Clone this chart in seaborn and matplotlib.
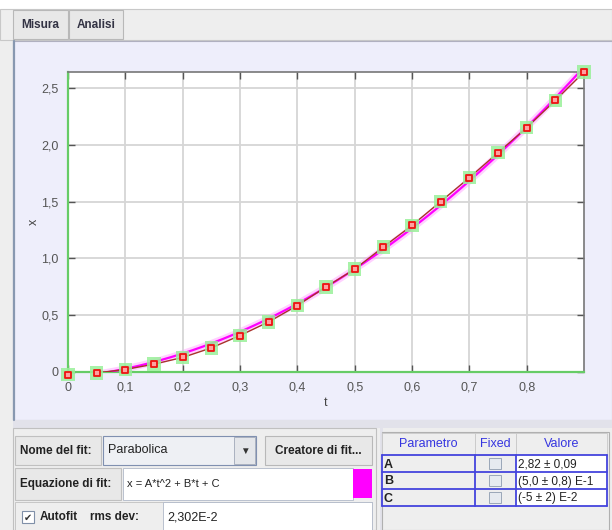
import numpy as np
import pandas as pd
import matplotlib
matplotlib.use("Agg")
import matplotlib.pyplot as plt
from matplotlib.patches import Rectangle
import seaborn as sns

sns.set_style("ticks")
plt.rcParams['font.family'] = ['Liberation Sans', 'DejaVu Sans']

# measured points (t, x)
t_vals = [0.00, 0.05, 0.10, 0.15, 0.20, 0.25, 0.30, 0.35, 0.40, 0.45,
          0.50, 0.55, 0.60, 0.65, 0.70, 0.75, 0.80, 0.85, 0.90]
x_vals = [-0.022, -0.008, 0.022, 0.069, 0.128, 0.212, 0.321, 0.441, 0.585, 0.749,
          0.905, 1.10, 1.29, 1.50, 1.71, 1.93, 2.15, 2.39, 2.64]

# fit results shown in the table
par_names = ["A", "B", "C"]
par_values = [2.82, 0.50, -0.05]
par_labels = ["2,82 ± 0,09", "(5,0 ± 0,8) E-1", "(-5 ± 2) E-2"]

x_ticks = [0, 0.1, 0.2, 0.3, 0.4, 0.5, 0.6, 0.7, 0.8]
x_ticklabels = ["0", "0,1", "0,2", "0,3", "0,4", "0,5", "0,6", "0,7", "0,8"]
y_ticks = [0, 0.5, 1.0, 1.5, 2.0, 2.5]
y_ticklabels = ["0", "0,5", "1,0", "1,5", "2,0", "2,5"]

df = pd.DataFrame({"t": t_vals, "x": x_vals})
A, B, C = par_values
t_fit = np.linspace(0, 0.9, 200)
fit = pd.DataFrame({"t": t_fit, "x": A * t_fit**2 + B * t_fit + C})

W, H = 612, 530
fig = plt.figure(figsize=(W / 100, H / 100), dpi=100)
fig.patch.set_facecolor("#EEEEEE")

# --- GUI background, drawn in pixel coords ---
bg = fig.add_axes([0, 0, 1, 1], zorder=-10)
bg.set_xlim(0, W)
bg.set_ylim(H, 0)
bg.axis("off")


def box(x, y, w, h, fc, ec="none", lw=1.0):
    bg.add_patch(Rectangle((x, y), w, h, facecolor=fc, edgecolor=ec, linewidth=lw))


def label(x, y, s, size=8.5, weight="normal", color="#222222", ha="left"):
    bg.text(x, y, s, fontsize=size, fontweight=weight, color=color, ha=ha, va="center")


box(0, 0, W, 9, "white")
box(0, 9, W, 31, "#EEEEEE", "#C8C8C8", 0.8)
box(13, 10, 55, 29, "#E8E8E8", "#B8B8B8", 0.8)
box(69, 10, 54, 29, "#E8E8E8", "#B8B8B8", 0.8)
label(40.5, 25, "Misura", 8.5, "bold", "#333344", "center")
label(96, 25, "Analisi", 8.5, "bold", "#333344", "center")

# plot panel
box(13, 41, W - 13, 379, "#EEEEFB", "#B0B0C0", 0.8)
bg.plot([13.5, 13.5], [41, 420], color="#8898B0", lw=1.6)
box(13, 420, W - 13, 8, "#E2E2EA")

# bottom-left fit panel
box(13, 428, 363, 102, "#EEEEEE", "#C0C0C0", 0.8)
box(15, 436, 86, 29, "#E8E8E8", "#C0C0C0", 0.8)
label(20, 451, "Nome del fit:", 8.5, "bold")
box(103, 436, 153, 29, "#EEF0F4", "#8090B0", 0.8)
label(108, 450, "Parabolica", 9)
box(234, 437, 21, 27, "#E4E6EA", "#A0A8B8", 0.6)
label(244.5, 451, "▼", 7, color="#333333", ha="center")
box(265, 436, 107, 29, "#E8E8E8", "#B8B8B8", 0.8)
label(318.5, 451, "Creatore di fit...", 8.5, "bold", ha="center")

box(15, 468, 106, 32, "#E8E8E8", "#C0C0C0", 0.8)
label(20, 484, "Equazione di fit:", 8.5, "bold")
box(123, 468, 230, 32, "white", "#B0B8C8", 0.6)
label(127, 484, "x = A*t^2 + B*t + C", 8)
box(353, 469, 19, 29, "#FF00FF")

box(15, 502, 357, 28, "#EEEEEE", "#C0C0C0", 0.6)
box(22, 511, 12, 12, "white", "#8090A8", 0.8)
label(28, 517.5, "✔", 7, color="#333333", ha="center")
label(40, 517.5, "Autofit", 8.5, "bold")
label(90, 517.5, "rms dev:", 8.5, "bold")
box(163, 502, 209, 28, "white", "#B0B8C8", 0.6)
label(167, 517, "2,302E-2", 9)

# parameter table
box(380, 428, 3, 102, "#E2E2EA")
box(382, 432, 227, 98, "#EEEEEE", "#B0B0B0", 0.8)
cols = [382, 475, 516, 607]
header = ["Parametro", "Fixed", "Valore"]
for i, h in enumerate(header):
    box(cols[i], 433, cols[i + 1] - cols[i], 22, "#EEEEEE", "#C8C8C8", 0.6)
    label((cols[i] + cols[i + 1]) / 2, 444, h, 9, color="#3535E0", ha="center")
row_h = 17
for r, (name, val) in enumerate(zip(par_names, par_labels)):
    y0 = 455 + r * row_h
    box(cols[0], y0, cols[1] - cols[0], row_h, "#EEEEEE")
    box(cols[2], y0, cols[3] - cols[2], row_h, "white")
    box(489, y0 + 3, 12, 11, "#E6EAF0", "#9AA6B8", 0.7)
    label(cols[0] + 2, y0 + row_h / 2 + 1, name, 9, "bold")
    label(cols[2] + 2, y0 + row_h / 2 + 1, val, 8.5, color="#222222")
for y in [455, 472, 489, 506]:
    bg.plot([cols[0], cols[3]], [y, y], color="#4444DD", lw=1.3)
for x in cols:
    bg.plot([x, x], [455, 506], color="#4444DD", lw=1.3)

# --- plot area ---
ax = fig.add_axes([68 / W, 1 - 372 / H, (584 - 68) / W, 300 / H])
ax.set_facecolor("white")

ax.plot(fit["t"], fit["x"], color="#FF99FF", lw=5, alpha=0.45, zorder=2)
sns.lineplot(data=fit, x="t", y="x", ax=ax, color="#FF00FF", lw=1.6, zorder=3)
sns.lineplot(data=df, x="t", y="x", ax=ax, color="#A8322A", lw=1.0, zorder=4)
sns.scatterplot(data=df, x="t", y="x", ax=ax, marker="s", s=95, color="#99F099",
                alpha=0.85, edgecolor="none", zorder=5, clip_on=False)
sns.scatterplot(data=df, x="t", y="x", ax=ax, marker="s", s=24, color="#FFA0A0",
                edgecolor="#EE1111", linewidth=1.3, zorder=6, clip_on=False)

ax.set_xlim(0, 0.9)
ax.set_ylim(0, 2.64)
ax.set_xticks(x_ticks)
ax.set_xticklabels(x_ticklabels)
ax.set_yticks(y_ticks)
ax.set_yticklabels(y_ticklabels)
ax.grid(True, color="#D6D6D6", lw=1.3)
ax.set_axisbelow(True)
ax.tick_params(direction="in", length=5, width=1, color="#555555",
               labelsize=9, labelcolor="#555555", top=True, right=True,
               labeltop=False, labelright=False, pad=7)
ax.set_xlabel("t", fontsize=9, color="#444444", labelpad=2)
ax.set_ylabel("x", fontsize=9, color="#444444")
ax.yaxis.set_label_coords(-0.055, 0.5)
for side in ["left", "bottom"]:
    ax.spines[side].set_color("#66CC66")
    ax.spines[side].set_linewidth(1.6)
for side in ["top", "right"]:
    ax.spines[side].set_color("#777777")
    ax.spines[side].set_linewidth(1.2)
    ax.spines[side].set_visible(True)

fig.savefig("out.png", dpi=100)
